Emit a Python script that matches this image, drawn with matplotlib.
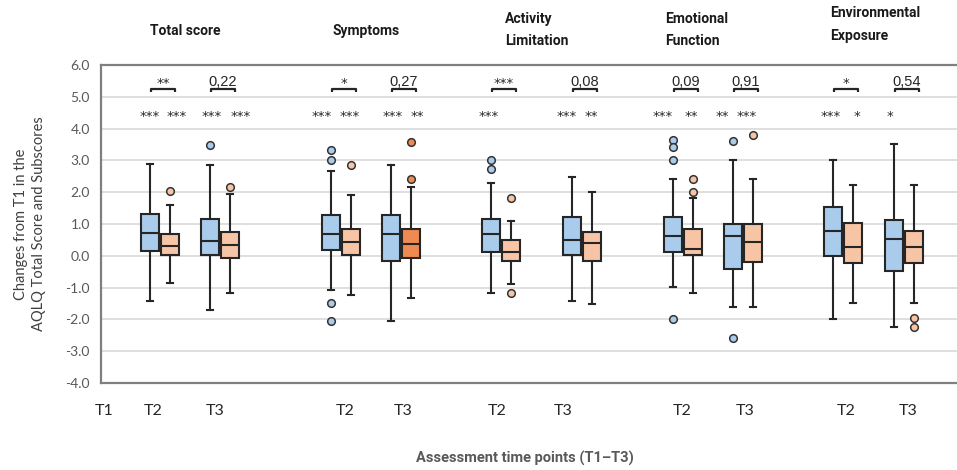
import numpy as np
import matplotlib.pyplot as plt

# five AQLQ domains, each with T2 and T3 compared to T1
domains = ["Total score", "Symptoms", "Activity\nLimitation", "Emotional\nFunction", "Environmental\nExposure"]
xticklabels = ["T1", "T2", "T3", "T2", "T3", "T2", "T3", "T2", "T3", "T2", "T3"]

# group A (blue boxes), order: Total T2, Total T3, Symptoms T2, Symptoms T3, ...
blue_lo = [-1.42, -1.71, -1.08, -2.05, -1.16, -1.43, -0.97, -1.60, -1.98, -2.24]
blue_q1 = [0.15, 0.01, 0.17, -0.16, 0.11, 0.04, 0.11, -0.40, 0.00, -0.49]
blue_med = [0.71, 0.48, 0.70, 0.70, 0.68, 0.49, 0.63, 0.62, 0.77, 0.52]
blue_q3 = [1.30, 1.16, 1.29, 1.27, 1.15, 1.21, 1.23, 1.00, 1.53, 1.13]
blue_hi = [2.89, 2.86, 2.67, 2.84, 2.29, 2.48, 2.42, 3.00, 3.02, 3.51]
blue_out = [[], [3.50], [3.34, 3.00, -1.49, -2.06], [], [3.02, 2.73], [],
            [3.63, 3.42, 3.00, -1.98], [3.62, -2.58], [], []]

# group B (orange boxes)
orange_lo = [-0.87, -1.17, -1.24, -1.33, -0.90, -1.53, -1.17, -1.60, -1.49, -1.49]
orange_q1 = [0.01, -0.08, 0.01, -0.08, -0.17, -0.17, 0.01, -0.19, -0.24, -0.24]
orange_med = [0.30, 0.34, 0.44, 0.36, 0.11, 0.40, 0.21, 0.42, 0.28, 0.28]
orange_q3 = [0.70, 0.74, 0.84, 0.84, 0.49, 0.76, 0.83, 1.00, 1.02, 0.77]
orange_hi = [1.59, 1.94, 1.92, 2.17, 1.10, 2.02, 1.82, 2.42, 2.24, 2.24]
orange_out = [[2.04], [2.15], [2.84], [3.59, 2.43], [1.83, -1.16], [],
              [2.42, 2.01], [3.81], [], [-1.96, -2.24]]

# significance labels
p_between = ["**", "0,22", "*", "0,27", "***", "0,08", "0,09", "0,91", "*", "0,54"]
blue_sig = ["***", "***", "***", "***", "***", "***", "***", "**", "***", "*"]
orange_sig = ["***", "***", "***", "**", "", "**", "**", "***", "*", ""]

# layout (x in pixel-like units from the left axis edge)
centers = np.array([59, 119, 240, 300, 400, 481, 582, 642, 742, 803])
tick_x = [3, 52, 114, 244, 302, 396, 462, 581, 644, 746, 808]
header_x = [49, 232, 404, 564, 729]
header_y = [1.107, 1.107, 1.11, 1.11, 1.127]
blue_star_dx = [0, 2, -9, 2, -2, -5, -10, -10, -2, -4]
orange_star_dx = [7, 11, -1, 6, 0, 0, -1, -6, 4, 0]

c_blue = "#A9CBEC"
c_orange = "#F7C4A5"
c_orange_dark = "#EE8A52"
c_edge = "#262626"

fig = plt.figure(figsize=(9.57, 4.7), dpi=100)
ax = fig.add_axes([101 / 957, 1 - 383 / 470, 1 - 101 / 957 + 0.01, 318 / 470])

def stats(lo, q1, med, q3, hi, out):
    return [dict(whislo=a, q1=b, med=c, q3=d, whishi=e, fliers=f)
            for a, b, c, d, e, f in zip(lo, q1, med, q3, hi, out)]

def draw(st, pos, colors):
    bp = ax.bxp(st, positions=pos, widths=18, patch_artist=True, showfliers=True,
                boxprops=dict(edgecolor=c_edge, linewidth=1.5),
                medianprops=dict(color=c_edge, linewidth=1.5),
                whiskerprops=dict(color=c_edge, linewidth=1.5),
                capprops=dict(color=c_edge, linewidth=1.5),
                capwidths=6, manage_ticks=False, zorder=3)
    for patch, col in zip(bp["boxes"], colors):
        patch.set_facecolor(col)
    for fl, col in zip(bp["fliers"], colors):
        fl.set(marker="o", markersize=5.5, markerfacecolor=col,
               markeredgecolor="#333333", markeredgewidth=1.1)

draw(stats(blue_lo, blue_q1, blue_med, blue_q3, blue_hi, blue_out), centers - 10, [c_blue] * 10)
o_cols = [c_orange] * 10
o_cols[3] = c_orange_dark
draw(stats(orange_lo, orange_q1, orange_med, orange_q3, orange_hi, orange_out), centers + 10, o_cols)

# brackets + labels
for i, c in enumerate(centers):
    x0, x1 = c - 9, c + 15
    ax.plot([x0, x0, x1, x1], [5.15, 5.24, 5.24, 5.15], color=c_edge, lw=1.6,
            solid_capstyle="butt", zorder=3)
    lab = p_between[i]
    if "," in lab:
        ax.text((x0 + x1) / 2, 5.26, lab, ha="center", va="bottom", fontsize=10.5, color="#262626",
                family=["Liberation Sans", "DejaVu Sans"])
    else:
        ax.text((x0 + x1) / 2, 5.2, lab, ha="center", va="bottom", fontsize=9.5, color="#262626")
    ax.text(c - 10 + blue_star_dx[i], 4.18, blue_sig[i], ha="center", va="bottom", fontsize=9.5, color="#262626")
    if orange_sig[i]:
        ax.text(c + 10 + orange_star_dx[i], 4.18, orange_sig[i], ha="center", va="bottom", fontsize=9.5, color="#262626")

ax.set_xlim(0, 866)
ax.set_ylim(-4, 6)
ax.set_yticks(np.arange(-4, 7, 1))
ax.set_yticklabels([f"{v:.1f}" for v in np.arange(-4, 7, 1)], fontsize=10, color="#595959",
                   family=["Lato", "DejaVu Sans"])
ax.set_xticks(tick_x)
ax.set_xticklabels(xticklabels, fontsize=11.5, color="#262626", family=["Lato", "DejaVu Sans"])
ax.tick_params(axis="x", length=0, pad=15)
ax.tick_params(axis="y", length=0, pad=8)
ax.grid(axis="y", color="#D9D9D9", lw=1.2, zorder=0)
ax.set_axisbelow(True)
for s in ax.spines.values():
    s.set_color("#7F7F7F")
    s.set_linewidth(1.6)

for name, hx, hy in zip(domains, header_x, header_y):
    ax.text(hx, hy, name, transform=ax.get_xaxis_transform(), ha="left", va="center",
            fontsize=10, fontweight="bold", linespacing=1.75, color="#1a1a1a",
            family=["Roboto", "DejaVu Sans"], clip_on=False)

fig.text(30 / 957, 1 - 224 / 470, "Changes from T1 in the\nAQLQ Total Score and Subscores",
         rotation=90, ha="center", va="center", fontsize=10.5, color="#404040",
         family=["Lato", "DejaVu Sans"], linespacing=1.3)
fig.text(525 / 957, 1 - 458 / 470, "Assessment time points (T1\u2013T3)", ha="center", va="center",
         fontsize=10.5, fontweight="bold", color="#595959",
         family=["Roboto", "DejaVu Sans"])

fig.savefig("out.png", dpi=100)
